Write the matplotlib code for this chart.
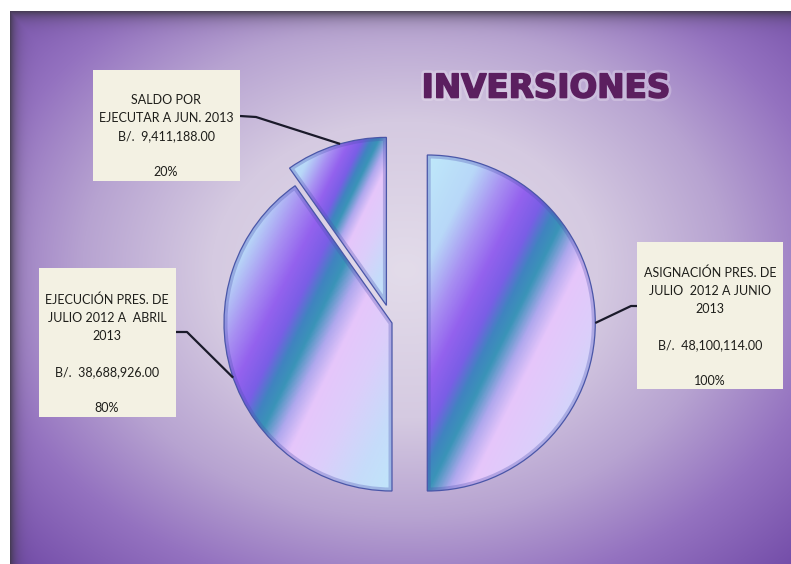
import numpy as np
import matplotlib.pyplot as plt
import matplotlib.patheffects as pe
from matplotlib.colors import LinearSegmentedColormap, to_rgb
from matplotlib.patches import Rectangle, Wedge

# datos del grafico
conceptos = ['ASIGNACIÓN PRES. DE\nJULIO  2012 A JUNIO\n2013',
             'EJECUCIÓN PRES. DE\nJULIO 2012 A  ABRIL\n2013',
             'SALDO POR\nEJECUTAR A JUN. 2013']
montos = [48100114.00, 38688926.00, 9411188.00]
porcentajes = ['100%', '80%', '20%']
titulo = 'INVERSIONES'

W, H = 791, 564


def py(y):
    # coordenadas en pixeles (y hacia abajo) -> datos (y hacia arriba)
    return H - y


fig = plt.figure(figsize=(W / 100, H / 100), dpi=100)
ax = fig.add_axes([0, 0, 1, 1])

# fondo morado con degradado radial
bx0, by0 = 10, 11
yy, xx = np.mgrid[by0:H, bx0:W] + 0.5
d = np.hypot((xx - 405) / 430, (yy - 270) / 330)
stops = [(0.0, '#e3dcea'), (0.45, '#d5cae1'), (0.75, '#b7a3d1'),
         (1.0, '#9472c0'), (1.35, '#6a42a2')]
pos = [s[0] for s in stops]
cols = np.array([to_rgb(s[1]) for s in stops])
bg = np.stack([np.interp(d, pos, cols[:, k]) for k in range(3)], axis=-1)
borde = np.array(to_rgb('#3a3640'))
f_top = 0.85 * np.exp(-(yy - by0) / 7)
f_left = 0.85 * np.exp(-(xx - bx0) / 6)
f = np.maximum(f_top, f_left)[..., None]
bg = bg * (1 - f) + borde * f
ax.imshow(bg, extent=(bx0, W, 0, py(by0)), origin='upper', zorder=0,
          interpolation='bilinear')

# pastel
radio = 168
centro = (392, py(323))
explode = np.array([0.21, 0.0, 0.11]) * radio
wedges, _ = ax.pie(montos, radius=radio, center=centro, startangle=90,
                   counterclock=False, explode=explode, frame=True,
                   wedgeprops=dict(edgecolor='#4a56a8', linewidth=0.9))

franjas = LinearSegmentedColormap.from_list('franjas', [
    (0.0, '#bfe9fa'), (0.16, '#b8d8f8'), (0.26, '#a890f2'), (0.34, '#9462ee'),
    (0.41, '#7a5ee6'), (0.46, '#4084c0'), (0.50, '#3a94b8'), (0.56, '#b0a8ee'),
    (0.62, '#e6c6fb'), (0.74, '#dccefa'), (0.88, '#c6dcfa'), (1.0, '#c0e6fa')])
gdir = np.array([0.896, -0.443])

for w in wedges:
    ext = w.get_path().get_extents()
    x0, y0, x1, y1 = ext.x0, ext.y0, ext.x1, ext.y1
    gx, gy = np.meshgrid(np.linspace(x0, x1, 300), np.linspace(y0, y1, 300))
    p = (gx - x0) * gdir[0] + (gy - y1) * gdir[1]
    p = (p - p.min()) / (p.max() - p.min())
    im = ax.imshow(p, cmap=franjas, extent=(x0, x1, y0, y1), origin='lower',
                   zorder=2, interpolation='bilinear', vmin=0, vmax=1)
    im.set_clip_path(w)
    w.set_facecolor('none')
    w.set_zorder(3)
    # sombra interior del borde (efecto 3D)
    sombra = Wedge(w.center, w.r, w.theta1, w.theta2, facecolor='none',
                   edgecolor='#4b4fb0', linewidth=5, alpha=0.3, zorder=2.5)
    ax.add_patch(sombra)
    sombra.set_clip_path(w)

# cuadros de texto
cajas = [(637, 242, 783, 389), (39, 268, 176, 417), (93, 70, 240, 181)]
textos_xy = [(710, 273), (107, 300), (166, 100)]
guias = [[(637, 306), (631, 306)], [(176, 332), (187, 332)], [(240, 116), (256, 117)]]
angulos = [0, 199, 106]

for i, w in enumerate(wedges):
    x0, t0, x1, b0 = cajas[i]
    ax.add_patch(Rectangle((x0, py(b0)), x1 - x0, b0 - t0, facecolor='#f3f1e3',
                           edgecolor='none', zorder=4))
    monto = 'B/.  {:,.2f}'.format(montos[i])
    sep = '\n' if i == 2 else '\n\n'
    lineas = (conceptos[i] + sep + monto + '\n\n' + porcentajes[i]).split('\n')
    tx, ty = textos_xy[i]
    for k, ln in enumerate(lineas):
        ax.text(tx, py(ty + 18 * k), ln, ha='center', va='center', fontsize=9,
                family='Lato', color='#1e1e1a', zorder=5)
    a = np.deg2rad(angulos[i])
    cx, cy = w.center
    ancla = (cx + w.r * np.cos(a), cy + w.r * np.sin(a))
    pts = [(gx_, py(gy_)) for gx_, gy_ in guias[i]] + [ancla]
    ax.plot([q[0] for q in pts], [q[1] for q in pts], color='#1a1a2a',
            lw=1.6, zorder=3.5, solid_capstyle='butt')

ax.text(546, py(88), titulo, ha='center', va='center', fontsize=23.5,
        fontweight='heavy', family='DejaVu Sans', color='#5b1f5f', zorder=6,
        path_effects=[pe.Stroke(linewidth=5, foreground='#f2ecf5', alpha=0.3),
                      pe.Stroke(linewidth=1.2, foreground='#5b1f5f'),
                      pe.Normal()])

ax.set_xlim(0, W)
ax.set_ylim(0, H)
ax.set_aspect('equal')
ax.axis('off')
fig.savefig('out.png', dpi=100, facecolor='white')
